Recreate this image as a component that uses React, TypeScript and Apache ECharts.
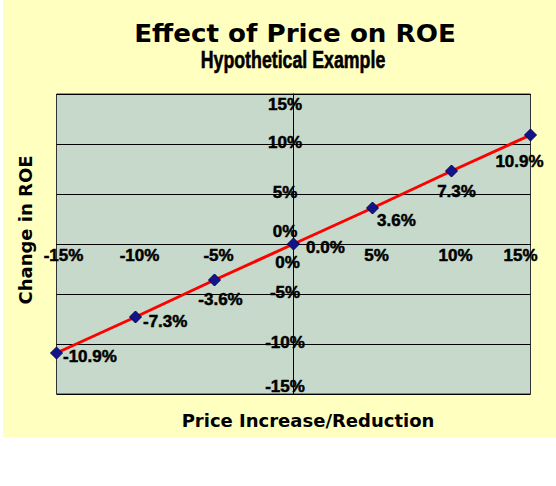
import { useEffect, useRef } from 'react';
import * as echarts from 'echarts';

// price change (x) vs change in ROE (y), both in %
const priceChange = [-15, -10, -5, 0, 5, 10, 15];
const roeChange = [-10.9, -7.3, -3.6, 0.0, 3.6, 7.3, 10.9];
const axisMin = -15;
const axisMax = 15;
const axisStep = 5;

const NARROW = '"Liberation Sans", Arial, sans-serif';
const WIDE = '"DejaVu Sans", Verdana, sans-serif';

// where each point's value label sits, relative to its marker
const labelPlacement = [
  { position: 'right', offset: [-5, 3] },
  { position: 'right', offset: [-4, 4] },
  { position: 'bottom', offset: [6, -1] },
  { position: 'right', offset: [1, 3] },
  { position: 'right', offset: [-7, 12] },
  { position: 'bottom', offset: [5, 0] },
  { position: 'bottom', offset: [-11, 6] },
];

// a thin stroke makes Liberation Sans Bold look closer to the heavy original face
const tickFont = {
  fontFamily: NARROW,
  fontWeight: 'bold' as const,
  fontSize: 17,
  color: '#000',
  textBorderColor: '#000',
  textBorderWidth: 0.5,
};

const centered = {
  fill: '#000',
  align: 'center',
  verticalAlign: 'middle',
  textAlign: 'center',
  textVerticalAlign: 'middle',
};

export default function App() {
  const chartRef = useRef<HTMLDivElement>(null);

  useEffect(() => {
    if (!chartRef.current) return;
    const chart = echarts.init(chartRef.current, undefined, { renderer: 'svg' });

    const points = priceChange.map((x, i) => ({
      value: [x, roeChange[i]],
      label: labelPlacement[i],
    }));

    chart.setOption({
      animation: false,
      backgroundColor: '#ffffc0',
      grid: {
        left: 53.5,
        top: 94,
        width: 474,
        height: 300,
        show: true,
        backgroundColor: '#c6d9cb',
        borderColor: '#333',
        borderWidth: 1,
      },
      graphic: [
        {
          type: 'text',
          x: 292,
          y: 34,
          scaleX: 1.09,
          style: { ...centered, text: 'Effect of Price on ROE', fontFamily: WIDE, fontWeight: 'bold', fontSize: 24 },
        },
        {
          type: 'text',
          x: 290,
          y: 59,
          scaleX: 0.74,
          style: {
            ...centered,
            text: 'Hypothetical Example',
            fontFamily: NARROW,
            fontWeight: 'bold',
            fontSize: 24,
            stroke: '#000',
            lineWidth: 0.6,
          },
        },
        {
          type: 'text',
          x: 305,
          y: 420,
          style: { ...centered, text: 'Price Increase/Reduction', fontFamily: WIDE, fontWeight: 'bold', fontSize: 18 },
        },
        {
          type: 'text',
          x: 22,
          y: 230,
          rotation: Math.PI / 2,
          style: { ...centered, text: 'Change in ROE', fontFamily: WIDE, fontWeight: 'bold', fontSize: 18 },
        },
      ],
      xAxis: {
        type: 'value',
        min: axisMin,
        max: axisMax,
        interval: axisStep,
        axisLine: { onZero: true, lineStyle: { color: '#000', width: 1 } },
        axisTick: { show: false },
        splitLine: { show: false },
        axisLabel: {
          // labels sit just under the zero line, not under the plot
          margin: -147,
          formatter: (v: number) => {
            const key = v === axisMin ? 'lo' : v === axisMax ? 'hi' : v === 0 ? 'zero' : 'n';
            return `{${key}|${v}%}`;
          },
          rich: {
            lo: { ...tickFont, padding: [0, 0, 0, 14] },
            hi: { ...tickFont, padding: [0, 20, 0, 0] },
            zero: { ...tickFont, padding: [7, 12, 0, 0] },
            n: { ...tickFont, padding: [0, 0, 0, 8] },
          },
        },
      },
      yAxis: {
        type: 'value',
        min: axisMin,
        max: axisMax,
        interval: axisStep,
        axisLine: { show: true, onZero: true, lineStyle: { color: '#000', width: 1 } },
        axisTick: { show: false },
        splitLine: { show: true, lineStyle: { color: '#000', width: 1 } },
        axisLabel: {
          // labels straddle the vertical zero line
          align: 'center',
          margin: -228.5,
          formatter: (v: number) => {
            const key = v === axisMax ? 'top' : v === axisMin ? 'bot' : v === 0 ? 'zero' : 'n';
            return `{${key}|${v}%}`;
          },
          rich: {
            top: { ...tickFont, padding: [20, 0, 0, 0] },
            bot: { ...tickFont, padding: [0, 0, 16, 0] },
            zero: { ...tickFont, padding: [0, 0, 26, 0] },
            n: { ...tickFont, padding: [0, 0, 4, 0] },
          },
        },
      },
      series: [
        {
          type: 'line',
          data: points,
          clip: false,
          symbol: 'diamond',
          symbolSize: 12,
          lineStyle: { color: '#ff0000', width: 3 },
          itemStyle: { color: '#14148a', borderColor: '#000050', borderWidth: 1 },
          label: {
            show: true,
            ...tickFont,
            formatter: (p: { value: number[] }) => `${p.value[1].toFixed(1)}%`,
          },
          z: 5,
        },
      ],
    });

    return () => chart.dispose();
  }, []);

  return (
    <div style={{ position: 'absolute', left: 0, top: 0, width: 556, height: 486, background: '#fff' }}>
      <div ref={chartRef} style={{ position: 'absolute', left: 3, top: 0, width: 553, height: 437 }} />
    </div>
  );
}
